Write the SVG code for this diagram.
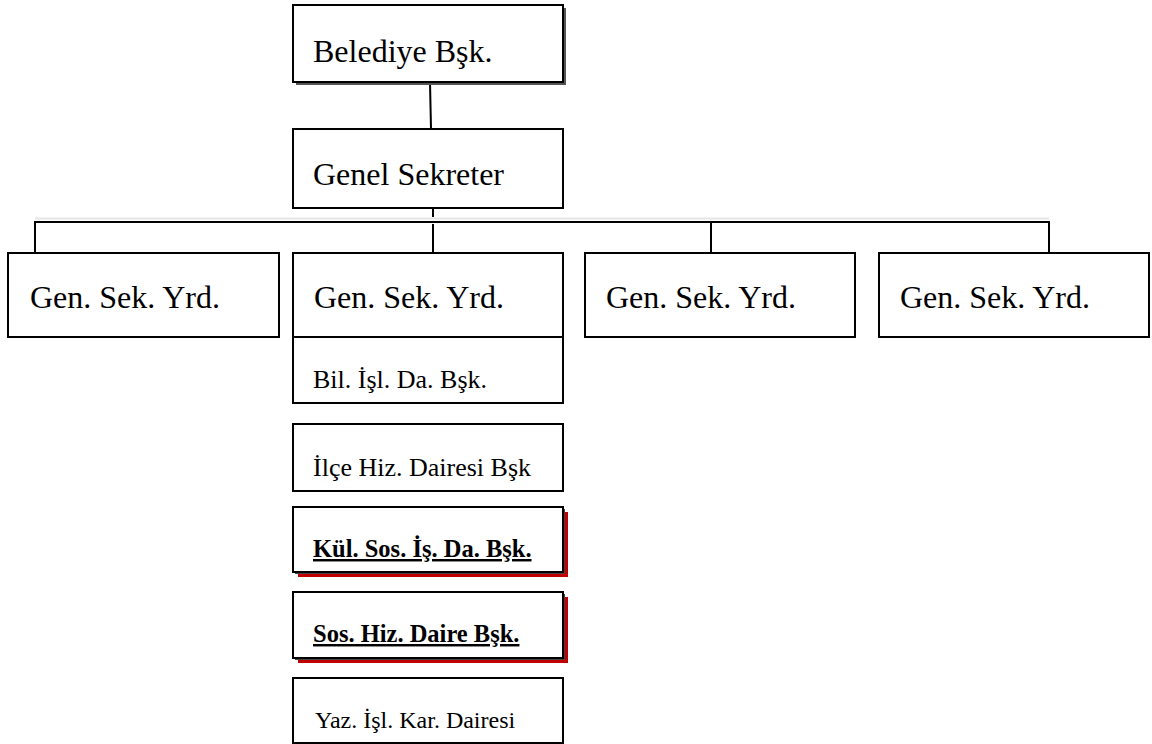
<svg xmlns="http://www.w3.org/2000/svg" width="1152" height="744" viewBox="0 0 1152 744">
<style>
.box{fill:#fff;stroke:#000;stroke-width:2}
.ln{stroke:#000;stroke-width:2;fill:none}
.big{font-family:"Liberation Serif","Times New Roman",serif;font-size:32px;fill:#000}
.sm{font-family:"Liberation Serif","Times New Roman",serif;font-size:26px;fill:#000}
.bd{font-family:"Liberation Serif","Times New Roman",serif;font-size:24.5px;font-weight:bold;text-decoration:underline;fill:#000}
.red{fill:#c00000}
</style>
<rect width="1152" height="744" fill="#fff"/>
<g id="connectors">
<line x1="35" y1="218.5" x2="1049" y2="218.5" stroke="#e6e6e6" stroke-width="2"/>
<line class="ln" x1="430" y1="82" x2="431" y2="129"/>
<line class="ln" x1="433" y1="208" x2="433" y2="217"/>
<line class="ln" x1="433" y1="224" x2="433" y2="253"/>
<line class="ln" x1="34" y1="222" x2="1050" y2="222"/>
<line class="ln" x1="35" y1="222" x2="35" y2="253"/>
<line class="ln" x1="711" y1="222" x2="711" y2="253"/>
<line class="ln" x1="1049" y1="222" x2="1049" y2="253"/>
</g>
<g id="belediye">
<rect x="296" y="8" width="270" height="77" fill="#555"/>
<rect class="box" x="293" y="5" width="270" height="77"/>
<text class="big" x="313" y="62">Belediye Bşk.</text>
</g>
<g id="genel">
<rect class="box" x="293" y="129" width="270" height="79"/>
<text class="big" x="313" y="185">Genel Sekreter</text>
</g>
<g id="gsy1">
<rect class="box" x="8" y="253" width="271" height="84"/>
<text class="big" x="30" y="308">Gen. Sek. Yrd.</text>
</g>
<g id="gsy2">
<rect class="box" x="293" y="253" width="270" height="84"/>
<text class="big" x="314" y="308">Gen. Sek. Yrd.</text>
</g>
<g id="gsy3">
<rect class="box" x="585" y="253" width="270" height="84"/>
<text class="big" x="606" y="308">Gen. Sek. Yrd.</text>
</g>
<g id="gsy4">
<rect class="box" x="879" y="253" width="270" height="84"/>
<text class="big" x="900" y="308">Gen. Sek. Yrd.</text>
</g>
<g id="bil">
<rect class="box" x="293" y="337" width="270" height="66"/>
<text class="sm" x="313" y="388">Bil. İşl. Da. Bşk.</text>
</g>
<g id="ilce">
<rect class="box" x="293" y="424" width="270" height="67"/>
<text class="sm" x="313" y="476">İlçe Hiz. Dairesi Bşk</text>
</g>
<g id="kul">
<rect class="red" x="298" y="512" width="270" height="65"/>
<rect x="295" y="509" width="270" height="65" fill="#444"/>
<rect class="box" x="293" y="507" width="270" height="65"/>
<text class="bd" x="313" y="557">Kül. Sos. İş. Da. Bşk.</text>
</g>
<g id="sos">
<rect class="red" x="298" y="597" width="270" height="66"/>
<rect x="295" y="594" width="270" height="66" fill="#444"/>
<rect class="box" x="293" y="592" width="270" height="66"/>
<text class="bd" x="313" y="642">Sos. Hiz. Daire Bşk.</text>
</g>
<g id="yaz">
<rect class="box" x="293" y="678" width="270" height="65"/>
<text class="sm" x="315" y="728" style="font-size:24px">Yaz. İşl. Kar. Dairesi</text>
</g>
</svg>
